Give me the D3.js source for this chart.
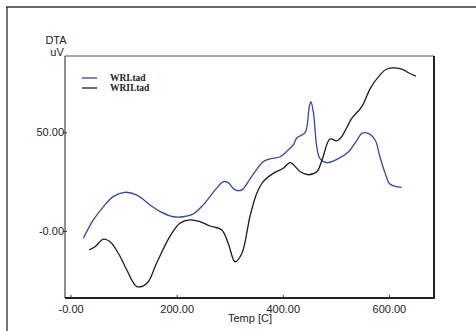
<!DOCTYPE html>
<html>
<head>
<meta charset="utf-8">
<script src="https://cdn.jsdelivr.net/npm/d3@7"></script>
<style>
  html, body { margin: 0; padding: 0; background: #fff; overflow: hidden; }
  svg { display: block; }
  text { font-family: "Liberation Sans", Arial, sans-serif; fill: #222; }
</style>
</head>
<body>
<svg id="chart" width="476" height="331"></svg>
<script>
// WRI.tad (blue) — temperature [C] / DTA [uV]
const wriTemp = [24, 43, 62, 80, 103, 125, 150, 169, 194, 212, 231, 250, 275, 288, 297, 310, 323, 338, 363, 376, 395, 410, 420, 426, 442, 446, 450, 453, 458, 464, 470, 483, 502, 524, 540, 549, 561, 574, 583, 593, 602, 624];
const wriDta  = [-3.7, 5.6, 12.3, 17.4, 19.6, 18.2, 13.2, 9.8, 7.2, 7.2, 8.6, 13.2, 21.6, 25.0, 24.5, 20.8, 20.8, 26.3, 35.1, 36.5, 37.6, 41.0, 43.6, 47.0, 49.8, 53.7, 63.0, 65.5, 59.6, 42.7, 36.8, 34.6, 36.3, 40.2, 46.1, 49.5, 49.5, 46.1, 37.6, 29.2, 23.8, 22.1];

// WRII.tad (black)
const wriiTemp = [35, 46, 62, 74, 90, 106, 125, 144, 162, 187, 206, 225, 244, 263, 285, 297, 310, 323, 338, 351, 363, 382, 401, 414, 433, 448, 464, 474, 489, 502, 511, 530, 549, 565, 583, 596, 624, 637, 651];
const wriiDta  = [-9.6, -8.0, -4.2, -5.4, -11.3, -19.8, -28.2, -26.5, -16.4, -2.9, 3.9, 5.6, 4.7, 2.5, 0.5, -6.2, -15.6, -11.3, 7.2, 19.1, 25.0, 29.2, 31.8, 34.6, 30.0, 28.5, 30.0, 36.0, 46.6, 45.7, 47.8, 57.1, 63.0, 72.3, 79.0, 82.1, 82.1, 80.2, 78.5];

const seriesNames = ["WRI.tad", "WRII.tad"];
const seriesColors = ["#34489e", "#1c1c1c"];

const xTicks = [0, 200, 400, 600];
const xTickLabels = ["-0.00", "200.00", "400.00", "600.00"];
const yTicks = [0, 50];
const yTickLabels = ["-0.00", "50.00"];

const svg = d3.select("#chart");
const plot = { left: 65, top: 56, right: 434, bottom: 298 };

const x = d3.scaleLinear().domain([-10.5, 685]).range([plot.left, plot.right]);
const y = d3.scaleLinear().domain([-34, 88.7]).range([plot.bottom, plot.top]);

// outer frame (only top/left visible)
svg.append("line").attr("x1", 7).attr("x2", 7).attr("y1", 7).attr("y2", 331)
  .attr("stroke", "#777").attr("stroke-width", 2);
svg.append("line").attr("x1", 6).attr("x2", 476).attr("y1", 7).attr("y2", 7)
  .attr("stroke", "#333").attr("stroke-width", 1.5);

// plot frame
svg.append("line").attr("x1", plot.left).attr("x2", plot.right).attr("y1", plot.top).attr("y2", plot.top)
  .attr("stroke", "#555").attr("stroke-width", 1);
svg.append("line").attr("x1", plot.left).attr("x2", plot.left).attr("y1", plot.top).attr("y2", plot.bottom)
  .attr("stroke", "#444").attr("stroke-width", 1.2);
svg.append("line").attr("x1", plot.right).attr("x2", plot.right).attr("y1", plot.top).attr("y2", plot.bottom + 1)
  .attr("stroke", "#222").attr("stroke-width", 2);

// x axis
const xAxis = svg.append("g")
  .attr("transform", `translate(0,${plot.bottom})`)
  .call(d3.axisBottom(x).tickValues(xTicks).tickSize(-3).tickSizeOuter(0)
    .tickFormat((d, i) => xTickLabels[i]));
xAxis.select(".domain").attr("stroke", "#222").attr("stroke-width", 2)
  .attr("d", `M${plot.left},0H${plot.right + 1}`);
xAxis.selectAll(".tick line").attr("stroke", "#333");
xAxis.selectAll(".tick text").attr("y", 7).attr("dy", "0.71em")
  .style("font-size", "11px").attr("fill", "#222");

// y axis
const yAxis = svg.append("g")
  .attr("transform", `translate(${plot.left},0)`)
  .call(d3.axisLeft(y).tickValues(yTicks).tickSize(2).tickSizeOuter(0)
    .tickFormat((d, i) => yTickLabels[i]));
yAxis.select(".domain").remove();
yAxis.selectAll(".tick line").attr("stroke", "#333").attr("x2", 2).attr("x1", -2);
yAxis.selectAll(".tick text").attr("x", -1).style("font-size", "11px").attr("fill", "#222");

// axis titles
svg.append("text").attr("x", 56).attr("y", 44).attr("text-anchor", "middle")
  .style("font-size", "11px").text("DTA");
svg.append("text").attr("x", 57).attr("y", 56).attr("text-anchor", "middle")
  .style("font-size", "11px").text("uV");
svg.append("text").attr("x", 250).attr("y", 322).attr("text-anchor", "middle")
  .style("font-size", "11px").text("Temp  [C]");

// curves
const line = d3.line()
  .x(d => x(d[0]))
  .y(d => y(d[1]))
  .curve(d3.curveCatmullRom.alpha(0.5));

const series = [
  d3.zip(wriTemp, wriDta),
  d3.zip(wriiTemp, wriiDta)
];

svg.append("g").selectAll("path")
  .data(series)
  .join("path")
  .attr("d", line)
  .attr("fill", "none")
  .attr("stroke", (d, i) => seriesColors[i])
  .attr("stroke-width", 1.3)
  .attr("stroke-linejoin", "round");

// legend
const legend = svg.append("g").attr("transform", "translate(82,78)");
const item = legend.selectAll("g")
  .data(seriesNames)
  .join("g")
  .attr("transform", (d, i) => `translate(0,${i * 10})`);
item.append("line").attr("x1", 0).attr("x2", 15).attr("y1", 0).attr("y2", 0)
  .attr("stroke", (d, i) => seriesColors[i]).attr("stroke-width", 1.3);
item.append("text").attr("x", 28).attr("y", 3)
  .style("font-family", "'Liberation Serif', 'Times New Roman', serif")
  .style("font-weight", "bold").style("font-size", "9.5px")
  .attr("fill", "#111")
  .text(d => d);
</script>
</body>
</html>
